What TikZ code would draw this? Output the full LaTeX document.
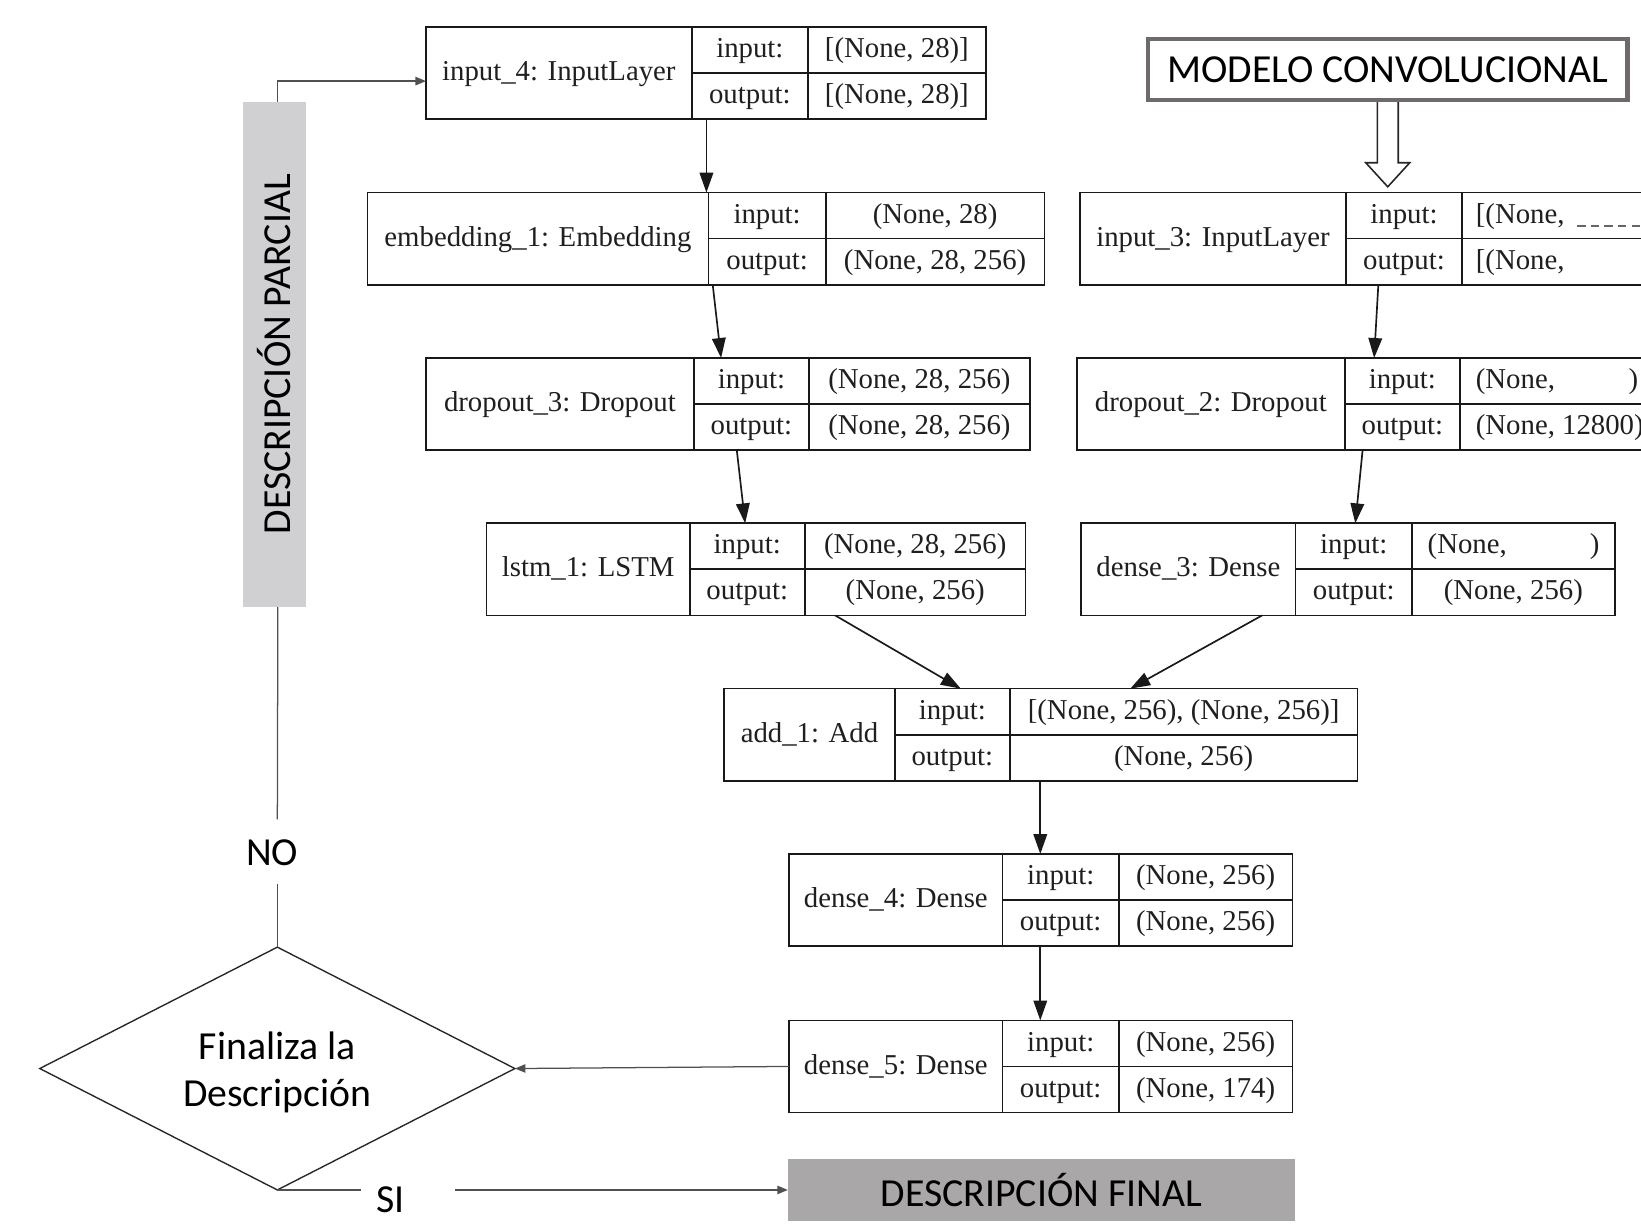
\documentclass[tikz,border=0pt]{standalone}
\usepackage{fontspec}
\setmainfont{Liberation Serif}
\newfontfamily\cbfont{Carlito}
\usetikzlibrary{arrows.meta,calc,shapes.geometric}
\definecolor{barcol}{HTML}{D0CFD1}
\definecolor{fincol}{HTML}{A9A7A7}
\definecolor{modcol}{HTML}{6E6A6A}
\definecolor{flowcol}{HTML}{505050}
\newcommand\gvf{\fontsize{27.5}{30}\selectfont}
\newcommand\cbf{\cbfont\fontsize{38}{45}\selectfont}
\tikzset{
  recbox/.style={draw=black!90, line width=1.6pt, inner sep=0pt, outer sep=0pt},
  recline/.style={draw=black!90, line width=1.6pt},
  rtext/.style={font=\gvf, inner sep=0pt, text height=0.7em, text depth=0.25em, text=black!88, yshift=-5pt},
  gv/.style={draw=black!90, line width=1.6pt, -{Triangle[length=19pt,width=13pt]}},
  flow/.style={draw=flowcol, line width=1.2pt},
  flowarrow/.style={flow, -{Triangle[length=10pt,width=8pt]}},
  lbl/.style={font=\cbf, inner sep=0pt, text=black},
}
\newcommand\rec[9]{%
  \node[recbox, minimum width={#5-#2}, minimum height=88, anchor=north west] (#1) at (#2,#6) {};
  \draw[recline] (#3,#6) -- (#3,{#6+88});
  \draw[recline] (#4,#6) -- (#4,{#6+88});
  \draw[recline] (#3,{#6+44}) -- (#5,{#6+44});
  \node[rtext] at ({(#2+#3)/2},{#6+44}) {#7};
  \node[rtext] at ({(#3+#4)/2},{#6+22}) {input:};
  \node[rtext] at ({(#3+#4)/2},{#6+66}) {output:};
  \node[rtext] at ({(#4+#5)/2},{#6+22}) {#8};
  \node[rtext] at ({(#4+#5)/2},{#6+66}) {#9};
}
\begin{document}
\begin{tikzpicture}[x=1pt,y=-1pt]
\useasboundingbox (0,0) rectangle (1568,1169);
\fill[white] (0,0) rectangle (1568,1169);
\clip (0,0) rectangle (1568,1169);

% records
\rec{in4}{407}{661}{772}{942}{26}{input\_4: InputLayer}{[(None, 28)]}{[(None, 28)]}
\rec{emb}{351}{677}{789}{998}{184}{embedding\_1: Embedding}{(None, 28)}{(None, 28, 256)}
\rec{drop3}{407}{663}{773}{984}{342}{dropout\_3: Dropout}{(None, 28, 256)}{(None, 28, 256)}
\rec{lstm}{465}{659}{769}{980}{500}{lstm\_1: LSTM}{(None, 28, 256)}{(None, 256)}
\rec{in3}{1032}{1286}{1397}{1700}{184}{input\_3: InputLayer}{}{}
\rec{drop2}{1029}{1285}{1395}{1700}{342}{dropout\_2: Dropout}{}{}
\rec{dense3}{1033}{1238}{1349}{1543}{500}{dense\_3: Dense}{}{(None, 256)}
\rec{add}{692}{855}{965}{1297}{658}{add\_1: Add}{[(None, 256), (None, 256)]}{(None, 256)}
\rec{dense4}{754}{958}{1069}{1235}{816}{dense\_4: Dense}{(None, 256)}{(None, 256)}
\rec{dense5}{754}{958}{1069}{1235}{975}{dense\_5: Dense}{(None, 256)}{(None, 174)}

% partially visible values
\node[rtext, anchor=west] (in3a) at (1410,206) {[(None,};
\draw[draw=black!60, line width=1.2pt, dash pattern=on 8pt off 5pt] (1507,216) -- (1568,216);
\node[rtext, anchor=west] (in3b) at (1410,250) {[(None,};
\node[rtext, anchor=west] (d2a) at (1410,364) {(None,};
\node[rtext, anchor=west] (d2c) at (1556,364) {)};
\node[rtext, anchor=west] (d2b) at (1410,408) {(None, 12800)};
\node[rtext, anchor=west] (d3a) at (1364,522) {(None,};
\node[rtext, anchor=west] (d3c) at (1519,522) {)};

% network connectors
\draw[gv] ($(in4.south west)+(268,0)$) -- ($(emb.north west)+(324,0)$);
\draw[gv] ($(emb.south west)+(330,0)$) -- ($(drop3.north west)+(282,0)$);
\draw[gv] ($(drop3.south west)+(297,0)$) -- ($(lstm.north west)+(247,0)$);
\draw[gv] ($(lstm.south west)+(333,0)$) -- ($(add.north west)+(226,0)$);
\draw[gv] ($(dense3.south west)+(173,0)$) -- ($(add.north west)+(388,0)$);
\draw[gv] ($(in3.south west)+(285,0)$) -- ($(drop2.north west)+(284,0)$);
\draw[gv] ($(drop2.south west)+(273,0)$) -- ($(dense3.north west)+(262,0)$);
\draw[gv] ($(add.south west)+(302,0)$) -- ($(dense4.north west)+(240,0)$);
\draw[gv] ($(dense4.south west)+(240,0)$) -- ($(dense5.north west)+(240,0)$);

% modelo convolucional
\node[draw=modcol, line width=4pt, minimum width=458, minimum height=58, inner sep=0pt, font=\cbf] (mod) at (1326,66.5) {MODELO CONVOLUCIONAL};
\draw[draw=black!85, line width=1.5pt, fill=white]
  ($(mod.south)+(-10,0)$) -- ($(mod.south)+(-10,58)$) -- ($(mod.south)+(-21,58)$)
  -- ($(mod.south)+(0,81)$) -- ($(mod.south)+(21,58)$) -- ($(mod.south)+(10,58)$)
  -- ($(mod.south)+(10,0)$);

% partial description bar
\node[fill=barcol, minimum width=60, minimum height=483, anchor=north west, inner sep=0pt, outer sep=0pt] (bar) at (232,97) {};
\node[lbl, rotate=90] (bartxt) at (bar.center) {DESCRIPCIÓN PARCIAL};
\coordinate (bt) at ([xshift=3.5pt]bar.north);
\coordinate (bb) at ([xshift=3.5pt]bar.south);
\draw[flowarrow] (bt) |- ($(in4.west)+(0,7.5)$);

% decision
\node[draw=black!85, line width=1.3pt, shape=diamond, aspect=1.957, minimum width=454, minimum height=232, inner sep=0pt, outer sep=0pt] (dia) at (265,1021) {};
\node[lbl, align=center] (diatxt) at (265,1025) {Finaliza la\\Descripción};
\node[lbl] (no) at (260,815) {NO};
\coordinate (noT) at (265,783);
\coordinate (noB) at (265,845);
\draw[flow] (bb) -- (noT);
\draw[flow] (noB) -- (dia.north);
\draw[flowarrow] (dense5.west) -- (dia.east);

% final
\node[fill=fincol, minimum width=484, minimum height=60, inner sep=0pt, font=\cbf] (fin) at (995,1137) {DESCRIPCIÓN FINAL};
\node[lbl] (si) at (373,1146) {SI};
\coordinate (siL) at (345,1137);
\coordinate (siR) at (435,1137);
\draw[flow] (dia.south) -- (siL);
\draw[flowarrow] (siR) -- (fin.west);
\end{tikzpicture}
\end{document}
